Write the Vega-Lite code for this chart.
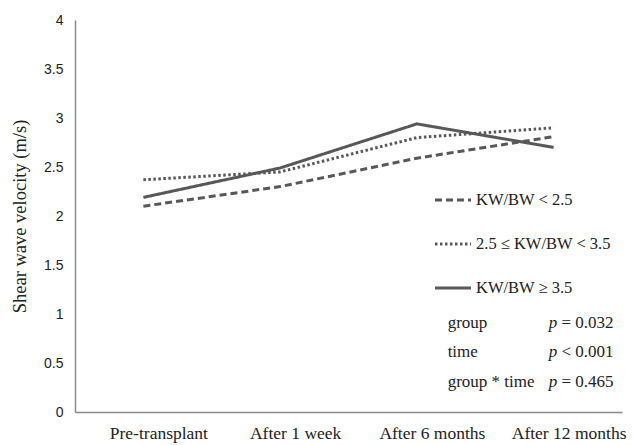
{
  "$schema": "https://vega.github.io/schema/vega-lite/v6.json",
  "width": 547,
  "height": 392,
  "autosize": {"type": "none"},
  "padding": {"left": 75, "top": 20, "right": 11, "bottom": 33},
  "background": "white",
  "config": {"view": {"stroke": null}},
  "datasets": {
    "series": [
      {"time": "Pre-transplant", "group": "KW/BW < 2.5", "v": 2.10},
      {"time": "After 1 week", "group": "KW/BW < 2.5", "v": 2.30},
      {"time": "After 6 months", "group": "KW/BW < 2.5", "v": 2.59},
      {"time": "After 12 months", "group": "KW/BW < 2.5", "v": 2.81},
      {"time": "Pre-transplant", "group": "2.5 ≤ KW/BW < 3.5", "v": 2.37},
      {"time": "After 1 week", "group": "2.5 ≤ KW/BW < 3.5", "v": 2.45},
      {"time": "After 6 months", "group": "2.5 ≤ KW/BW < 3.5", "v": 2.80},
      {"time": "After 12 months", "group": "2.5 ≤ KW/BW < 3.5", "v": 2.90},
      {"time": "Pre-transplant", "group": "KW/BW ≥ 3.5", "v": 2.19},
      {"time": "After 1 week", "group": "KW/BW ≥ 3.5", "v": 2.49},
      {"time": "After 6 months", "group": "KW/BW ≥ 3.5", "v": 2.94},
      {"time": "After 12 months", "group": "KW/BW ≥ 3.5", "v": 2.70}
    ]
  },
  "layer": [
    {
      "data": {"name": "series"},
      "mark": {"type": "line", "color": "#585858", "strokeWidth": 3},
      "encoding": {
        "x": {
          "field": "time", "type": "ordinal",
          "sort": ["Pre-transplant", "After 1 week", "After 6 months", "After 12 months"],
          "scale": {"paddingInner": 0, "paddingOuter": 0.5},
          "axis": {
            "title": null, "labelAngle": 0, "ticks": false,
            "domainColor": "#8c8c8c", "domainWidth": 1.5,
            "labelFont": "Liberation Serif", "labelFontSize": 17.5, "labelColor": "#222",
            "labelPadding": 12, "labelOffset": 15, "labelOverlap": false
          }
        },
        "y": {
          "field": "v", "type": "quantitative",
          "scale": {"domain": [0, 4], "nice": false, "zero": true},
          "axis": {
            "values": [0, 0.5, 1, 1.5, 2, 2.5, 3, 3.5, 4],
            "format": "~g",
            "title": "Shear wave velocity (m/s)",
            "grid": false, "ticks": false,
            "domainColor": "#8c8c8c", "domainWidth": 1.5,
            "labelFont": "Liberation Sans", "labelFontSize": 14, "labelColor": "#222",
            "labelPadding": 12,
            "titleFont": "Liberation Serif", "titleFontSize": 18.5, "titleFontWeight": "normal",
            "titleColor": "#222", "titlePadding": 14
          }
        },
        "strokeDash": {
          "field": "group", "type": "nominal",
          "scale": {
            "domain": ["KW/BW < 2.5", "2.5 ≤ KW/BW < 3.5", "KW/BW ≥ 3.5"],
            "range": [[7, 4], [2.5, 2.5], [1, 0]]
          },
          "legend": {
            "title": null,
            "orient": "none",
            "legendX": 358,
            "legendY": 160,
            "symbolType": "stroke",
            "symbolSize": 1300,
            "symbolStrokeColor": "#585858",
            "symbolStrokeWidth": 3,
            "labelFont": "Liberation Serif",
            "labelFontSize": 16.5,
            "labelColor": "#222",
            "labelOffset": 3,
            "rowPadding": 15
          }
        }
      }
    },
    {
      "data": {"values": [{"term": "group", "op": "= 0.032"}]},
      "encoding": {"x": {"datum": "After 12 months"}, "y": {"datum": 0.908}},
      "layer": [
        {"mark": {"type": "text", "align": "left", "baseline": "middle", "dx": -106, "font": "Liberation Serif", "fontSize": 17, "color": "#222"}, "encoding": {"text": {"field": "term"}}},
        {"mark": {"type": "text", "align": "left", "baseline": "middle", "dx": -5, "font": "Liberation Serif", "fontSize": 17, "fontStyle": "italic", "color": "#222"}, "encoding": {"text": {"value": "p"}}},
        {"mark": {"type": "text", "align": "right", "baseline": "middle", "dx": 60, "font": "Liberation Serif", "fontSize": 17, "color": "#222"}, "encoding": {"text": {"field": "op"}}}
      ]
    },
    {
      "data": {"values": [{"term": "time", "op": "< 0.001"}]},
      "encoding": {"x": {"datum": "After 12 months"}, "y": {"datum": 0.612}},
      "layer": [
        {"mark": {"type": "text", "align": "left", "baseline": "middle", "dx": -106, "font": "Liberation Serif", "fontSize": 17, "color": "#222"}, "encoding": {"text": {"field": "term"}}},
        {"mark": {"type": "text", "align": "left", "baseline": "middle", "dx": -5, "font": "Liberation Serif", "fontSize": 17, "fontStyle": "italic", "color": "#222"}, "encoding": {"text": {"value": "p"}}},
        {"mark": {"type": "text", "align": "right", "baseline": "middle", "dx": 60, "font": "Liberation Serif", "fontSize": 17, "color": "#222"}, "encoding": {"text": {"field": "op"}}}
      ]
    },
    {
      "data": {"values": [{"term": "group * time", "op": "= 0.465"}]},
      "encoding": {"x": {"datum": "After 12 months"}, "y": {"datum": 0.306}},
      "layer": [
        {"mark": {"type": "text", "align": "left", "baseline": "middle", "dx": -106, "font": "Liberation Serif", "fontSize": 17, "color": "#222"}, "encoding": {"text": {"field": "term"}}},
        {"mark": {"type": "text", "align": "left", "baseline": "middle", "dx": -5, "font": "Liberation Serif", "fontSize": 17, "fontStyle": "italic", "color": "#222"}, "encoding": {"text": {"value": "p"}}},
        {"mark": {"type": "text", "align": "right", "baseline": "middle", "dx": 60, "font": "Liberation Serif", "fontSize": 17, "color": "#222"}, "encoding": {"text": {"field": "op"}}}
      ]
    }
  ]
}
